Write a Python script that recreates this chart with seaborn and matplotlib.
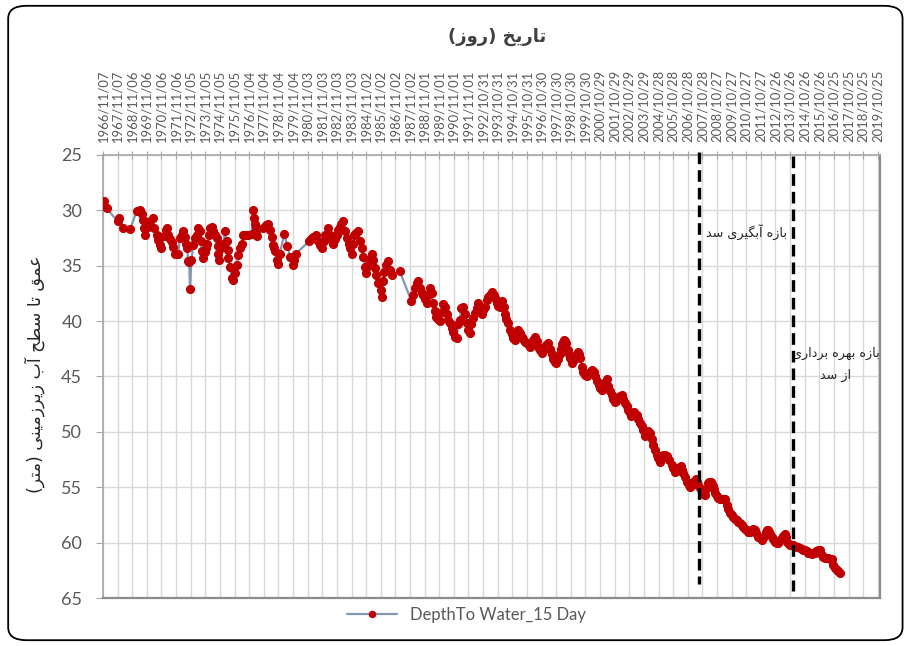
import matplotlib
matplotlib.use("Agg")
import matplotlib.pyplot as plt
from matplotlib.patches import FancyBboxPatch
import seaborn as sns

# x: years after 1966/11/07 (one axis step = 365 days), y: depth to water (m)
years_after_start = [
    0.00, 0.10, 0.25, 1.00, 1.10, 1.40, 1.85, 2.30, 2.50, 2.65,
    2.72, 2.80, 2.90, 3.10, 3.25, 3.40, 3.50, 3.67, 3.78, 3.90,
    4.00, 4.15, 4.28, 4.38, 4.47, 4.58, 4.70, 4.80, 4.95, 5.15,
    5.27, 5.38, 5.50, 5.60, 5.68, 5.76, 5.83, 5.90, 5.95, 6.05,
    6.18, 6.30, 6.40, 6.52, 6.63, 6.70, 6.75, 6.86, 6.95, 7.05,
    7.13, 7.22, 7.32, 7.43, 7.55, 7.66, 7.77, 7.85, 7.90, 7.96,
    8.10, 8.23, 8.34, 8.45, 8.52, 8.57, 8.69, 8.80, 8.92, 9.03,
    9.15, 9.26, 9.37, 9.49, 9.60, 9.75, 9.94, 10.17, 10.28, 10.34,
    10.40, 10.45, 10.50, 10.55, 10.97, 11.15, 11.30, 11.42, 11.54, 11.60,
    11.68, 11.76, 11.87, 12.00, 12.10, 12.40, 12.60, 12.80, 12.97, 13.05,
    13.20, 14.10, 14.25, 14.40, 14.60, 14.73, 14.85, 14.95, 15.10, 15.20,
    15.40, 15.50, 15.62, 15.75, 15.87, 15.98, 16.10, 16.20, 16.30, 16.40,
    16.55, 16.70, 16.80, 16.90, 17.00, 17.10, 17.20, 17.30, 17.45, 17.60,
    17.70, 17.80, 17.90, 18.00, 18.10, 18.20, 18.40, 18.50, 18.60, 18.70,
    18.83, 19.00, 19.10, 19.17, 19.25, 19.35, 19.50, 19.63, 19.80, 20.30,
    21.10, 21.20, 21.32, 21.45, 21.57, 21.68, 21.80, 21.90, 22.00, 22.13,
    22.25, 22.37, 22.48, 22.60, 22.70, 22.80, 22.92, 23.05, 23.18, 23.28,
    23.40, 23.50, 23.62, 23.73, 23.85, 23.97, 24.08, 24.20, 24.30, 24.40,
    24.50, 24.65, 24.76, 24.87, 25.00, 25.10, 25.20, 25.30, 25.45, 25.56,
    25.67, 25.78, 25.90, 26.02, 26.13, 26.25, 26.36, 26.47, 26.63, 26.72,
    26.80, 26.93, 27.05, 27.15, 27.27, 27.40, 27.50, 27.60, 27.70, 27.84,
    27.95, 28.07, 28.20, 28.30, 28.40, 28.52, 28.63, 28.75, 28.86, 28.98,
    29.10, 29.20, 29.32, 29.43, 29.55, 29.66, 29.77, 29.88, 30.00, 30.10,
    30.20, 30.33, 30.46, 30.58, 30.70, 30.80, 30.90, 31.00, 31.13, 31.26,
    31.33, 31.40, 31.48, 31.55, 31.62, 31.70, 31.80, 31.87, 31.94, 32.05,
    32.17, 32.30, 32.40, 32.47, 32.55, 32.63, 32.75, 32.86, 32.97, 33.08,
    33.20, 33.30, 33.47, 33.56, 33.65, 33.78, 33.90, 34.00, 34.10, 34.20,
    34.30, 34.45, 34.56, 34.68, 34.80, 34.90, 35.00, 35.12, 35.25, 35.37,
    35.48, 35.58, 35.70, 35.82, 35.93, 36.02, 36.10, 36.22, 36.34, 36.50,
    36.62, 36.73, 36.85, 36.96, 37.07, 37.18, 37.30, 37.40, 37.52, 37.64,
    37.75, 37.87, 37.98, 38.10, 38.22, 38.33, 38.45, 38.56, 38.70, 38.90,
    39.00, 39.12, 39.22, 39.35, 39.53, 39.62, 39.70, 39.80, 39.92, 40.05,
    40.15, 40.26, 40.37, 40.47, 40.56, 40.64, 40.72, 40.84, 40.95, 41.06,
    41.17, 41.28, 41.40, 41.48, 41.56, 41.63, 41.70, 41.78, 41.86, 41.98,
    42.10, 42.20, 42.30, 42.42, 42.53, 42.65, 42.78, 42.90, 43.00, 43.10,
    43.22, 43.34, 43.46, 43.57, 43.68, 43.80, 43.92, 44.03, 44.15, 44.26,
    44.37, 44.48, 44.60, 44.70, 44.80, 44.92, 45.05, 45.17, 45.28, 45.36,
    45.44, 45.50, 45.57, 45.65, 45.73, 45.85, 45.96, 46.08, 46.20, 46.31,
    46.42, 46.54, 46.65, 46.72, 46.80, 46.90, 46.98, 47.10, 47.20, 47.32,
    47.44, 47.55, 47.67, 47.78, 47.90, 48.02, 48.13, 48.25, 48.36, 48.47,
    48.58, 48.70, 48.80, 48.92, 49.04, 49.15, 49.27, 49.38, 49.50, 49.60,
    49.72, 49.84, 49.95, 50.07, 50.18, 50.30, 50.41,
]
depth_m = [
    29.6, 29.2, 29.8, 31.0, 30.7, 31.6, 31.7, 30.1, 30.0, 30.3,
    30.9, 31.6, 32.2, 31.5, 31.0, 30.7, 31.6, 32.2, 32.7, 33.1,
    33.4, 32.3, 31.8, 31.6, 32.2, 32.6, 32.9, 33.3, 33.9, 33.9,
    32.5, 32.2, 31.9, 32.4, 33.0, 33.4, 34.6, 34.7, 37.1, 34.5,
    33.1, 32.5, 32.2, 31.6, 31.9, 32.8, 33.7, 34.3, 33.8, 33.4,
    33.0, 32.2, 31.6, 31.5, 31.9, 32.2, 32.5, 33.2, 33.9, 34.5,
    33.4, 33.0, 31.9, 32.8, 33.6, 34.3, 35.1, 36.1, 36.3, 35.7,
    34.9, 34.0, 33.4, 33.0, 32.2, 32.2, 32.2, 32.1, 30.0, 30.7,
    31.2, 31.6, 32.1, 32.3, 31.6, 31.3, 31.2, 31.8, 32.4, 33.1,
    33.4, 33.7, 34.5, 34.8, 33.9, 32.1, 33.2, 34.2, 34.9, 34.5,
    33.9, 32.8, 32.6, 32.4, 32.2, 32.8, 33.1, 33.4, 32.8, 32.2,
    31.6, 32.2, 32.6, 33.0, 32.6, 32.2, 31.8, 31.5, 31.2, 31.0,
    31.9, 32.5, 33.0, 33.4, 33.9, 33.0, 32.2, 32.0, 31.9, 32.8,
    33.4, 34.2, 35.1, 35.7, 35.0, 34.5, 33.9, 34.5, 35.2, 35.8,
    36.6, 37.2, 37.8, 36.4, 35.6, 34.9, 34.6, 35.4, 35.8, 35.5,
    38.2, 37.6, 37.0, 36.6, 36.4, 37.0, 37.5, 37.6, 38.0, 38.4,
    37.6, 37.0, 37.5, 38.4, 39.1, 39.6, 39.8, 40.0, 39.2, 38.5,
    38.7, 39.4, 39.9, 40.2, 40.6, 41.0, 41.4, 41.5, 40.3, 39.9,
    38.8, 38.7, 39.4, 40.2, 40.8, 41.1, 40.3, 39.7, 39.3, 38.8,
    38.4, 38.8, 39.4, 39.0, 38.7, 38.1, 37.8, 37.6, 37.4, 37.6,
    37.9, 38.4, 38.6, 38.7, 38.2, 38.7, 39.4, 39.8, 40.2, 40.8,
    41.2, 41.5, 41.7, 41.1, 40.8, 41.1, 41.4, 41.6, 41.9, 42.0,
    42.1, 42.3, 42.0, 41.7, 41.4, 41.8, 42.3, 42.6, 42.9, 42.7,
    42.4, 42.2, 42.0, 42.5, 43.0, 43.4, 43.7, 43.8, 43.4, 43.0,
    42.5, 42.1, 41.9, 41.7, 41.8, 42.0, 42.6, 43.0, 43.35, 43.8,
    43.6, 43.35, 43.0, 42.75, 43.0, 43.35, 44.1, 44.6, 44.9, 45.0,
    44.8, 44.6, 44.4, 44.6, 45.0, 45.4, 45.75, 46.0, 46.2, 45.9,
    45.6, 45.2, 45.9, 46.3, 46.7, 47.0, 47.3, 47.2, 47.0, 46.8,
    46.7, 47.0, 47.4, 47.7, 48.0, 48.3, 48.6, 48.4, 48.2, 48.5,
    48.8, 49.2, 49.5, 49.8, 50.4, 50.2, 49.95, 50.1, 50.6, 51.2,
    51.6, 52.1, 52.4, 52.7, 52.4, 52.1, 52.1, 52.2, 52.5, 53.0,
    53.3, 53.6, 53.5, 53.3, 53.1, 53.4, 53.7, 54.1, 54.5, 54.8,
    55.0, 54.8, 54.5, 54.4, 54.3, 54.5, 54.8, 55.1, 55.5, 55.6,
    55.7, 55.2, 54.6, 54.5, 54.5, 54.7, 54.9, 55.2, 55.5, 55.8,
    56.0, 56.1, 56.1, 56.1, 56.1, 56.6, 57.0, 57.3, 57.5, 57.7,
    57.9, 58.0, 58.1, 58.2, 58.4, 58.6, 58.8, 58.9, 59.0, 59.05,
    58.9, 58.8, 58.85, 59.1, 59.45, 59.6, 59.75, 59.55, 59.3, 59.0,
    58.85, 58.9, 59.0, 59.2, 59.45, 59.7, 59.9, 60.0, 60.05, 59.8,
    59.55, 59.4, 59.25, 59.5, 59.9, 60.1, 60.2, 60.2, 60.2, 60.3,
    60.35, 60.4, 60.5, 60.6, 60.65, 60.7, 60.8, 60.9, 60.95, 61.0,
    60.95, 60.9, 60.8, 60.7, 60.65, 61.1, 61.3, 61.4, 61.4, 61.4,
    61.45, 61.5, 62.0, 62.3, 62.45, 62.6, 62.7,
]

date_labels = [
    "1966/11/07", "1967/11/07", "1968/11/06", "1969/11/06", "1970/11/06",
    "1971/11/06", "1972/11/05", "1973/11/05", "1974/11/05", "1975/11/05",
    "1976/11/04", "1977/11/04", "1978/11/04", "1979/11/04", "1980/11/03",
    "1981/11/03", "1982/11/03", "1983/11/03", "1984/11/02", "1985/11/02",
    "1986/11/02", "1987/11/02", "1988/11/01", "1989/11/01", "1990/11/01",
    "1991/11/01", "1992/10/31", "1993/10/31", "1994/10/31", "1995/10/31",
    "1996/10/30", "1997/10/30", "1998/10/30", "1999/10/30", "2000/10/29",
    "2001/10/29", "2002/10/29", "2003/10/29", "2004/10/28", "2005/10/28",
    "2006/10/28", "2007/10/28", "2008/10/27", "2009/10/27", "2010/10/27",
    "2011/10/27", "2012/10/26", "2013/10/26", "2014/10/26", "2015/10/26",
    "2016/10/25", "2017/10/25", "2018/10/25", "2019/10/25",
]
depth_ticks = [25, 30, 35, 40, 45, 50, 55, 60, 65]

# dam periods: start of impounding, start of operation (years after start)
dam_marks = [40.77, 47.2]

series_name = "DepthTo Water_15 Day"
title_fa = "تاریخ (روز)"
ylabel_fa = "عمق تا سطح آب زیرزمینی (متر)"
impound_fa = "بازه آبگیری سد"
operate_fa = "بازه بهره برداری\nاز سد"

# isolated, final, initial, medial presentation forms
FORMS = {
    "ا": ("\ufe8d", "\ufe8e", None, None),
    "آ": ("\ufe81", "\ufe82", None, None),
    "ب": ("\ufe8f", "\ufe90", "\ufe91", "\ufe92"),
    "ت": ("\ufe95", "\ufe96", "\ufe97", "\ufe98"),
    "ح": ("\ufea1", "\ufea2", "\ufea3", "\ufea4"),
    "خ": ("\ufea5", "\ufea6", "\ufea7", "\ufea8"),
    "د": ("\ufea9", "\ufeaa", None, None),
    "ر": ("\ufead", "\ufeae", None, None),
    "ز": ("\ufeaf", "\ufeb0", None, None),
    "س": ("\ufeb1", "\ufeb2", "\ufeb3", "\ufeb4"),
    "ط": ("\ufec1", "\ufec2", "\ufec3", "\ufec4"),
    "ع": ("\ufec9", "\ufeca", "\ufecb", "\ufecc"),
    "ق": ("\ufed5", "\ufed6", "\ufed7", "\ufed8"),
    "گ": ("\ufb92", "\ufb93", "\ufb94", "\ufb95"),
    "م": ("\ufee1", "\ufee2", "\ufee3", "\ufee4"),
    "ن": ("\ufee5", "\ufee6", "\ufee7", "\ufee8"),
    "ه": ("\ufee9", "\ufeea", "\ufeeb", "\ufeec"),
    "و": ("\ufeed", "\ufeee", None, None),
    "ی": ("\ufbfc", "\ufbfd", "\ufbfe", "\ufbff"),
}


def fa(text):
    # shape persian letters and put them in visual (left to right) order
    lines = []
    for line in text.split("\n"):
        out = []
        for i, c in enumerate(line):
            if c not in FORMS:
                out.append(c)
                continue
            prev_c = line[i - 1] if i > 0 else ""
            next_c = line[i + 1] if i + 1 < len(line) else ""
            joins_prev = prev_c in FORMS and FORMS[prev_c][2] is not None
            joins_next = next_c in FORMS and FORMS[c][2] is not None
            if joins_prev and joins_next:
                out.append(FORMS[c][3])
            elif joins_prev:
                out.append(FORMS[c][1])
            elif joins_next:
                out.append(FORMS[c][2])
            else:
                out.append(FORMS[c][0])
        s = "".join(reversed(out))
        s = s.replace("(", "\0").replace(")", "(").replace("\0", ")")
        lines.append(s)
    return "\n".join(lines)


sns.set_style("white")
plt.rcParams["font.family"] = ["Lato", "DejaVu Sans"]
fa_font = ["DejaVu Sans"]
grey = "#595959"

fig = plt.figure(figsize=(9.08, 6.46), dpi=100)
ax = fig.add_axes([0.1134, 0.0743, 0.8558, 0.6858])

sns.lineplot(
    x=years_after_start,
    y=depth_m,
    ax=ax,
    sort=False,
    estimator=None,
    color="#8497B0",
    linewidth=1.6,
    marker="o",
    markersize=5.8,
    markerfacecolor="#C00000",
    markeredgecolor="#C00000",
    label=series_name,
    zorder=3,
)

tops = [24.7, 25.1]
bottoms = [63.7, 64.4]
for xm, top, bot in zip(dam_marks, tops, bottoms):
    ax.plot([xm, xm], [top, bot], color="black", lw=2.4,
            linestyle=(0, (3.5, 1.8)), clip_on=False, zorder=4)

ax.set_xlim(0, 53.15)
ax.set_ylim(65, 25)
ax.set_xticks(range(len(date_labels)))
ax.set_xticklabels(date_labels, rotation=90)
ax.xaxis.tick_top()
ax.set_yticks(depth_ticks)
ax.grid(True, color="#D9D9D9", lw=1)
ax.set_axisbelow(True)
ax.set_xlabel("")
ax.set_ylabel("")

ax.tick_params(axis="x", top=True, bottom=False, direction="inout", length=6,
               color="#A6A6A6", labelsize=9.4, labelcolor=grey, pad=6)
ax.tick_params(axis="y", left=True, direction="out", length=5,
               color="#A6A6A6", labelsize=13, labelcolor=grey, pad=10)
for side in ["left", "top"]:
    ax.spines[side].set_color("#A6A6A6")
    ax.spines[side].set_linewidth(1.2)
for side in ["bottom", "right"]:
    ax.spines[side].set_color("#8C8C8C")
    ax.spines[side].set_linewidth(1.6)

ax.text(44.0, 32.0, fa(impound_fa), family=fa_font, fontsize=9.2,
        color="#262626", ha="center", va="center")
ax.text(50.1, 43.9, fa(operate_fa), family=fa_font, fontsize=9.2,
        color="#262626", ha="center", va="center", linespacing=1.9)

fig.text(0.547, 0.943, fa(title_fa), family=fa_font, fontsize=13,
         fontweight="bold", color="#404040", ha="center", va="center")
fig.text(0.0385, 0.42, fa(ylabel_fa), family=fa_font, fontsize=12.5,
         color="#262626", rotation=90, ha="center", va="center")

ax.legend(loc="center", bbox_to_anchor=(0.514, 0.048),
          bbox_transform=fig.transFigure, frameon=False, fontsize=12,
          labelcolor=grey, handlelength=3, markerscale=0.8)

fig.patches.append(FancyBboxPatch(
    (0.009, 0.009), 0.985, 0.982, boxstyle="round,pad=0,rounding_size=0.02",
    transform=fig.transFigure, fill=False, edgecolor="black", lw=1.3))

fig.savefig("out.png", dpi=100)
